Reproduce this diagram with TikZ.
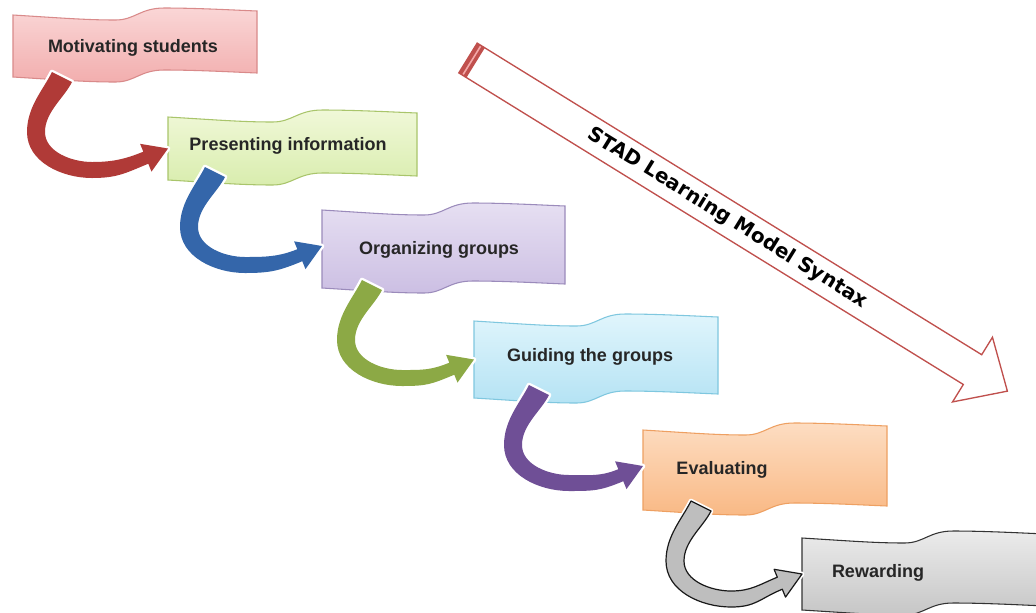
\documentclass[tikz,border=0pt]{standalone}
\usepackage{fontspec}
\setmainfont{Liberation Sans}
\newfontfamily\arrowfont{DejaVu Sans}
\usetikzlibrary{arrows.meta,calc}
\definecolor{p1t}{HTML}{FAD6D6}\definecolor{p1b}{HTML}{F2AEAE}\definecolor{p1d}{HTML}{D98A8A}
\definecolor{p2t}{HTML}{F0F8D8}\definecolor{p2b}{HTML}{D9EDAE}\definecolor{p2d}{HTML}{A9C56B}
\definecolor{p3t}{HTML}{E6DFF2}\definecolor{p3b}{HTML}{CCBFE3}\definecolor{p3d}{HTML}{9B8BBB}
\definecolor{p4t}{HTML}{E0F5FC}\definecolor{p4b}{HTML}{B5E3F4}\definecolor{p4d}{HTML}{7FC7DF}
\definecolor{p5t}{HTML}{FDDDC2}\definecolor{p5b}{HTML}{F9B985}\definecolor{p5d}{HTML}{EEA062}
\definecolor{p6t}{HTML}{EBEBEB}\definecolor{p6b}{HTML}{C6C6C6}\definecolor{p6d}{HTML}{333333}
\definecolor{a1}{HTML}{B03A37}\definecolor{a2}{HTML}{3466AA}\definecolor{a3}{HTML}{8CA945}
\definecolor{a4}{HTML}{6F4F96}\definecolor{a5}{HTML}{BEBEBE}
\definecolor{bigred}{HTML}{C0504D}\definecolor{bigpink}{HTML}{F4A8A8}
\newcommand\wavebanner[6]{%
  \shadedraw[#6] (#2,#3) .. controls ({#2+0.2*#4},{#3+3}) and ({#2+0.3*#4},{#3+5}) .. ({#2+0.42*#4},{#3+5})
   .. controls ({#2+0.5*#4},{#3+5}) and ({#2+0.52*#4},{#3-7}) .. ({#2+0.62*#4},{#3-7})
   .. controls ({#2+0.75*#4},{#3-7}) and ({#2+0.9*#4},{#3-5}) .. ({#2+#4},{#3-4})
   -- ({#2+#4},{#3+#5-4})
   .. controls ({#2+0.9*#4},{#3+#5-5}) and ({#2+0.75*#4},{#3+#5-7}) .. ({#2+0.62*#4},{#3+#5-7})
   .. controls ({#2+0.52*#4},{#3+#5-7}) and ({#2+0.5*#4},{#3+#5+5}) .. ({#2+0.42*#4},{#3+#5+5})
   .. controls ({#2+0.3*#4},{#3+#5+5}) and ({#2+0.2*#4},{#3+#5+3}) .. (#2,{#3+#5}) -- cycle;
  \node[boxnode, minimum width={#4*0.75pt}, minimum height={#5*0.75pt}] (#1) at ({#2+#4/2},{#3+#5/2}) {};
}
% tapered curved arrow from tail coordinate #1 to tip coordinate #2
\newcommand\bendarrow[3]{%
  \path[#3] ($(#1)+(-10,-5)$) .. controls ($(#1)+(-19,13)$) and ($(#1)+(-35,30)$) .. ($(#1)+(-35,55)$)
    .. controls ($(#1)+(-35,85)$) and ($(#1)+(0,101)$) .. ($(#1)+(30,101)$)
    .. controls ($(#1)+(55,101)$) and ($(#2)+(-42.8,24.8)$) .. ($(#2)+(-19.7,15.2)$)
    -- ($(#2)+(-16.5,23.1)$) -- (#2) -- ($(#2)+(-27.9,-4.7)$) -- ($(#2)+(-24.7,3.2)$)
    .. controls ($(#2)+(-43.2,10.8)$) and ($(#1)+(50,85)$) .. ($(#1)+(30,85)$)
    .. controls ($(#1)+(10,85)$) and ($(#1)+(-17,75)$) .. ($(#1)+(-17,55)$)
    .. controls ($(#1)+(-17,35)$) and ($(#1)+(2,21)$) .. ($(#1)+(10,5)$) -- cycle;
}
\begin{document}
\begin{tikzpicture}[x=0.75pt,y=-0.75pt,
  boxnode/.style={draw=none, inner sep=0pt, outer sep=0pt, shape=rectangle},
  lbl/.style={font=\fontsize{13.5pt}{16pt}\selectfont\bfseries, text=black!85, inner sep=0pt},
  ban/.style n args={3}{top color=#1, bottom color=#2, draw=#3, line width=0.8pt},
  glow/.style={draw=white, line width=3.5pt, line join=round},
  band/.style={fill=#1},
  grayband/.style={fill=a5, draw=black!90, line width=0.9pt, line join=round},
]
\useasboundingbox (0,0) rectangle (1036,612);
\clip (0,0) rectangle (1036,612);
\fill[white] (0,0) rectangle (1036,612);

% big hollow arrow
\begin{scope}[shift={(468,58)}, rotate=-31.7]
  \draw[bigred, line width=1pt, fill=white] (0,-17.5) -- (593,-17.5) -- (593,-38) -- (634,0)
     -- (593,38) -- (593,17.5) -- (0,17.5) -- cycle;
  \fill[bigred] (0,-17.5) rectangle (9,17.5);
  \draw[bigpink, line width=1.2pt] (4.5,-16.5) -- (4.5,16.5);
  \node[font=\arrowfont\bfseries\fontsize{15pt}{18pt}\selectfont, rotate=-31.7, inner sep=0pt] (title) at (305,0) {STAD Learning Model Syntax};
\end{scope}

% banners
\wavebanner{b1}{13}{15}{244}{62}{ban={p1t}{p1b}{p1d}}
\wavebanner{b2}{168}{117}{249}{63}{ban={p2t}{p2b}{p2d}}
\wavebanner{b3}{322}{210}{243}{78}{ban={p3t}{p3b}{p3d}}
\wavebanner{b4}{474}{321}{244}{77}{ban={p4t}{p4b}{p4d}}
\wavebanner{b5}{643}{430}{244}{80}{ban={p5t}{p5b}{p5d}}
\wavebanner{b6}{802}{538}{244}{72}{ban={p6t}{p6b}{p6d}}

\node[lbl] (t1) at (133,48) {Motivating students};
\node[lbl] (t2) at (288,146) {Presenting information};
\node[lbl] (t3) at (439,250) {Organizing groups};
\node[lbl] (t4) at (590,357) {Guiding the groups};
\node[lbl] (t5) at (722,470) {Evaluating};
\node[lbl] (t6) at (878,573) {Rewarding};

% curved arrows: tails under each banner, tips at the next banner's left edge
\coordinate (s1) at ($(b1.south west)+(49,0)$);
\coordinate (s2) at ($(b2.south west)+(47,-8)$);
\coordinate (s3) at ($(b3.south west)+(50,-3)$);
\coordinate (s4) at ($(b4.south west)+(65,-8)$);
\coordinate (s5) at ($(b5.south west)+(58,-4)$);
\coordinate (e1) at (b2.west);
\coordinate (e2) at ($(b3.west)+(0,-3)$);
\coordinate (e3) at (b4.west);
\coordinate (e4) at ($(b5.west)+(0,-4)$);
\coordinate (e5) at (b6.west);

\bendarrow{s1}{e1}{glow}\bendarrow{s1}{e1}{band=a1}
\bendarrow{s2}{e2}{glow}\bendarrow{s2}{e2}{band=a2}
\bendarrow{s3}{e3}{glow}\bendarrow{s3}{e3}{band=a3}
\bendarrow{s4}{e4}{glow}\bendarrow{s4}{e4}{band=a4}
\bendarrow{s5}{e5}{glow}\bendarrow{s5}{e5}{grayband}
\end{tikzpicture}
\end{document}
